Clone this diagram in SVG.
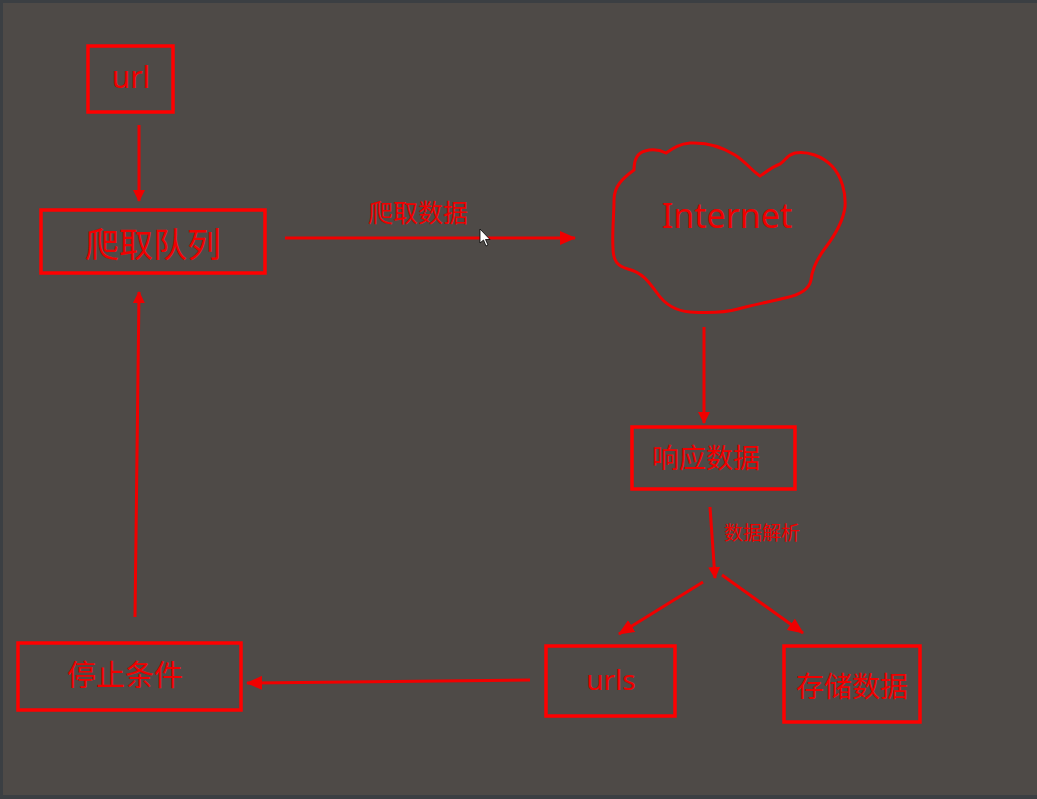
<svg xmlns="http://www.w3.org/2000/svg" width="1037" height="799" viewBox="0 0 1037 799">
<style>
.box{fill:none;stroke:#ff0000;stroke-width:3.5}
.ln{fill:none;stroke:#f00000;stroke-width:3}
.t{fill:#f00000;font-family:"Noto Sans","Noto Sans CJK SC",sans-serif;text-anchor:middle}
.c{font-family:"Noto Sans CJK SC","Noto Sans",sans-serif}
</style>
<defs>
<marker id="ah" markerWidth="12" markerHeight="12" refX="11" refY="6" orient="auto" markerUnits="userSpaceOnUse">
<path d="M0,0 L12,6 L0,12 Z" fill="#f00000"/>
</marker>
<marker id="ah2" markerWidth="16" markerHeight="14" refX="15" refY="7" orient="auto" markerUnits="userSpaceOnUse">
<path d="M0,0 L16,7 L0,14 Z" fill="#f00000"/>
</marker>
</defs>
<rect x="0" y="0" width="1037" height="799" fill="#3b3f43"/>
<rect x="3" y="3" width="1034" height="792" fill="#4e4a47"/>

<g id="connectors">
<line class="ln" x1="139" y1="125" x2="139" y2="201" marker-end="url(#ah)"/>
<line class="ln" x1="285" y1="238" x2="575" y2="238" marker-end="url(#ah2)"/>
<line class="ln" x1="704" y1="327" x2="704" y2="423" marker-end="url(#ah)"/>
<line class="ln" x1="710" y1="507" x2="715" y2="578" marker-end="url(#ah)"/>
<line class="ln" x1="703" y1="582" x2="619" y2="634" marker-end="url(#ah2)"/>
<line class="ln" x1="722" y1="575" x2="803" y2="633" marker-end="url(#ah2)"/>
<line class="ln" x1="530" y1="680" x2="247" y2="683" marker-end="url(#ah2)"/>
<line class="ln" x1="135" y1="617" x2="139" y2="292" marker-end="url(#ah)"/>
<text class="t c" x="418" y="222" font-size="25">爬取数据</text>
<text class="t c" x="762" y="540" font-size="19">数据解析</text>
</g>

<g id="url">
<rect class="box" x="88" y="46" width="85" height="66"/>
<text class="t" x="131" y="88" font-size="30">url</text>
</g>
<g id="queue">
<rect class="box" x="41" y="210" width="224" height="63"/>
<text class="t c" x="153" y="257" font-size="34">爬取队列</text>
</g>
<g id="internet">
<path class="ln" d="M634,170 C634,160 637,153 645,151 C652,149 660,150 666,153 C672,149 678,144 690,143 C708,142 724,148 735,155 C746,162 752,171 760,176 C766,172 772,167 780,164 C786,160 787,155 795,153 C808,151 822,156 832,166 C842,177 846,193 845,207 C843,222 835,235 826,247 C816,260 812,270 811,280 C809,290 800,295 785,298 C768,302 752,305 738,309 C724,313 706,313 690,312 C675,311 664,303 657,293 C649,282 643,273 628,269 C618,266 613,262 613,248 C612,232 614,215 614,200 C614,186 623,178 634,170 Z"/>
<text class="t" x="727" y="228" font-size="34">Internet</text>
</g>
<g id="response">
<rect class="box" x="632" y="427" width="163" height="62"/>
<text class="t c" x="706" y="468" font-size="27">响应数据</text>
</g>
<g id="urls">
<rect class="box" x="546" y="646" width="129" height="70"/>
<text class="t" x="611" y="690" font-size="28">urls</text>
</g>
<g id="store">
<rect class="box" x="784" y="646" width="136" height="76"/>
<text class="t c" x="852" y="697" font-size="28">存储数据</text>
</g>
<g id="stop">
<rect class="box" x="18" y="643" width="223" height="67"/>
<text class="t c" x="125" y="686" font-size="29">停止条件</text>
</g>

<path d="M480,229 L480,243 L483.5,240 L486,246 L488,245 L485.5,239.5 L490,239.5 Z" fill="#ffffff" stroke="#000" stroke-width="0.8"/>
</svg>
